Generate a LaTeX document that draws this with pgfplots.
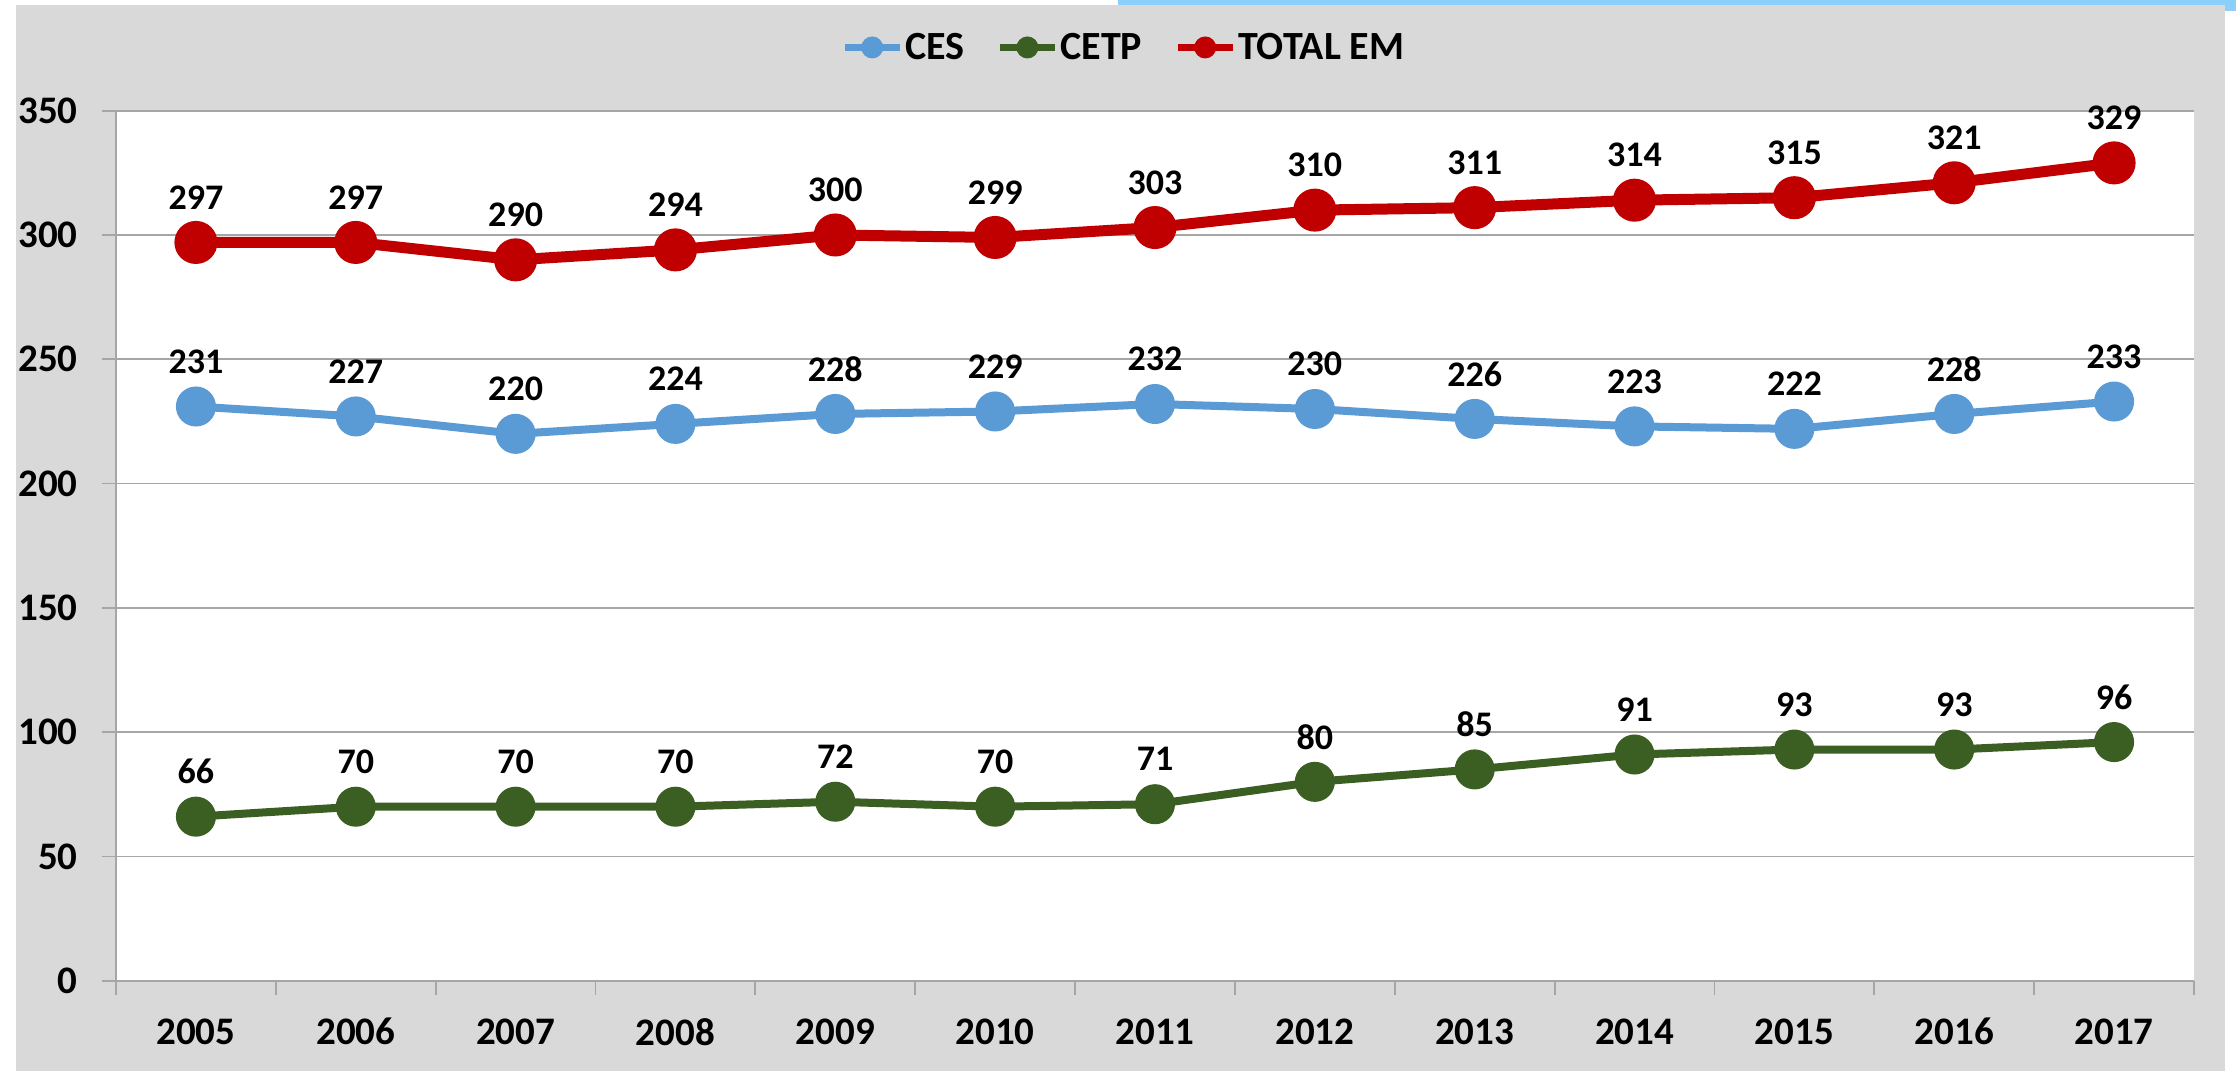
\documentclass[border=0pt]{standalone}
\usepackage{fontspec}
\setmainfont{Carlito}
\usepackage{pgfplots}
\pgfplotsset{compat=1.18}
\definecolor{cesblue}{HTML}{5B9BD5}
\definecolor{cetpgreen}{HTML}{3B5E23}
\definecolor{emred}{HTML}{C00000}
\definecolor{bggray}{HTML}{D9D9D9}
\definecolor{gridgray}{HTML}{A6A6A6}
\definecolor{decoblue}{HTML}{8BD0FA}
\begin{document}
\begin{tikzpicture}
\useasboundingbox (-58pt,-45.15pt) rectangle (1060pt,490.35pt);
\fill[white] (-58pt,-45.15pt) rectangle (1060pt,490.35pt);
\fill[bggray] (-50pt,-45.15pt) rectangle (1054.5pt,487.85pt);
\fill[decoblue] (501pt,487.85pt) rectangle (1060pt,490.35pt);
\fill[decoblue] (1054.5pt,485pt) rectangle (1060pt,490.35pt);
\begin{axis}[
  at={(0,0)}, anchor=south west,
  scale only axis, width=1039pt, height=435pt,
  clip=false,
  xmin=-0.5, xmax=12.5, ymin=0, ymax=350,
  ytick={0,50,...,350},
  xtick={0,1,...,12},
  xticklabels={2005,2006,2007,2008,2009,2010,2011,2012,2013,2014,2015,2016,2017},
  xtick style={draw=none},
  xticklabel style={anchor=center, inner sep=0pt, yshift=-18.5pt, font=\fontsize{19.5}{22}\selectfont\bfseries},
  extra x ticks={-0.5,0.5,...,12.5},
  extra x tick style={xtick style={draw=gridgray, line width=0.9pt}, xticklabel style={text opacity=0}},
  tick align=outside,
  major tick length=7pt,
  ytick style={gridgray, line width=0.9pt},
  axis x line*=bottom, axis y line*=left,
  axis line style={-, gridgray, line width=0.9pt},
  ymajorgrids,
  grid style={gridgray, line width=0.9pt},
  axis background/.style={fill=white},
  /pgf/number format/assume math mode=true,
  yticklabel style={anchor=east, inner sep=0pt, xshift=-12pt, font=\fontsize{19.5}{22}\selectfont\bfseries},
  nodes near coords,
  every node near coord/.append style={anchor=center, yshift=22.5pt, inner sep=0pt, text=black, font=\fontsize{18}{20}\selectfont\bfseries},
  legend columns=3,
  legend style={at={(0.485,1.0727)}, anchor=center, draw=none, fill=none,
    font=\fontsize{20}{22}\selectfont\bfseries,
    nodes={inner sep=1pt},
    /tikz/every even column/.append style={column sep=15pt}},
  legend image code/.code={\draw[#1, line width=3.5pt] (0pt,0pt) -- (27.5pt,0pt); \fill[#1, draw=none] (13.75pt,0pt) circle (5.5pt);},
]
\addplot[color=cesblue, line width=4pt, mark=*, mark size=8pt, mark options={fill=cesblue, draw=none}]
  coordinates {(0,231) (1,227) (2,220) (3,224) (4,228) (5,229) (6,232) (7,230) (8,226) (9,223) (10,222) (11,228) (12,233)};
\addlegendentry{CES}
\addplot[color=cetpgreen, line width=4pt, mark=*, mark size=8pt, mark options={fill=cetpgreen, draw=none}]
  coordinates {(0,66) (1,70) (2,70) (3,70) (4,72) (5,70) (6,71) (7,80) (8,85) (9,91) (10,93) (11,93) (12,96)};
\addlegendentry{CETP}
\addplot[color=emred, line width=5.5pt, mark=*, mark size=8pt, mark options={fill=emred, draw=none}]
  coordinates {(0,297) (1,297) (2,290) (3,294) (4,300) (5,299) (6,303) (7,310) (8,311) (9,314) (10,315) (11,321) (12,329)};
\addlegendentry{TOTAL EM}
\end{axis}
\end{tikzpicture}
\end{document}
